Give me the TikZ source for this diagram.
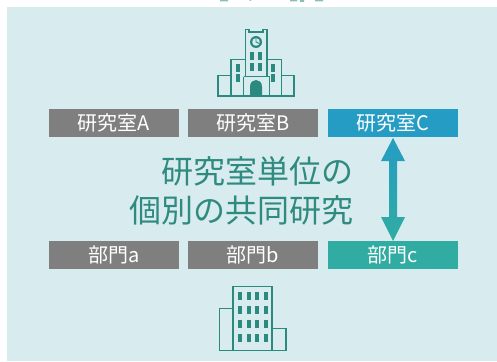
\documentclass[tikz,border=0pt]{standalone}
\usepackage{fontspec}
\setmainfont{Noto Sans CJK JP}
\begin{document}
\begin{tikzpicture}[x=1pt,y=-1pt,
  boxg/.style={fill=bargray,minimum width=130pt,minimum height=28pt,inner sep=0pt,text=white,font=\fontsize{20}{22}\selectfont},
  icon/.style={draw=iconteal,line width=1.8pt,fill=none},
  frag/.style={fill=iconteal!55!white}]
\definecolor{bgc}{HTML}{D8ECEF}
\definecolor{bargray}{HTML}{7F7F7F}
\definecolor{barblue}{HTML}{259CC3}
\definecolor{barteal}{HTML}{30ACA2}
\definecolor{iconteal}{HTML}{2B8A80}
\definecolor{txt}{HTML}{2F8A80}
\useasboundingbox (0,0) rectangle (497,361);
\fill[white] (0,0) rectangle (497,361);
\fill[bgc] (7,7) rectangle (497,361);
\fill[frag] (220,0) rectangle (228,1.5) (249.5,0) rectangle (251,1) (290,0) rectangle (297,1.5) (300,0) rectangle (304,2) (315,0) rectangle (323,1.5);
\node[boxg] (a) at (114,123) {研究室A};
\node[boxg] (b) at (253,123) {研究室B};
\node[boxg,fill=barblue] (c) at (393,123) {研究室C};
\node[boxg] (d) at (114,255) {部門a};
\node[boxg] (e) at (253,255) {部門b};
\node[boxg,fill=barteal] (f) at (393,255) {部門c};
\node[text=txt,font=\fontsize{32}{39}\selectfont,align=right,anchor=east,inner sep=0pt] (t) at (354,191) {研究室単位の\\個別の共同研究};
\shade[top color=barblue,bottom color=barteal]
 (393,138) -- (405,161) -- (397,161) -- (397,217) -- (405,217) -- (393,241) -- (381,217) -- (389,217) -- (389,161) -- (381,161) -- cycle;
% university
\draw[icon,line join=miter] (218,96) -- (218,75.5) -- (231,75.5) -- (231,59.5) -- (245.5,59.5) -- (245.5,29.5) -- (249,29.5) -- (249,32) -- (263,32) -- (263,29.5) -- (267,29.5) -- (267,59.5) -- (281.5,59.5) -- (281.5,75.5) -- (294,75.5) -- (294,96) -- cycle;
\draw[icon] (231,75.5) -- (231,96) (281.5,75.5) -- (281.5,96) (245.5,59.5) -- (245.5,76.5) (267,59.5) -- (267,76.5) (243.5,76.5) -- (269.5,76.5) (243.5,76.5) -- (243.5,96) (269.5,76.5) -- (269.5,96);
\fill[iconteal] (250,96) -- (250,87) .. controls (250,82) and (253,80) .. (256,80) .. controls (259,80) and (262,82) .. (262,87) -- (262,96) -- cycle;
\fill[iconteal] (256,42) circle (6pt);
\fill[bgc] (256,42) circle (3.8pt);
\draw[iconteal,line width=.9pt] (256,38.5) -- (256,42) -- (259.5,43.5);
\foreach \x in {252,260}{\foreach \y in {56,67}{\fill[iconteal] (\x-1.6,\y-3.7) rectangle (\x+1.6,\y+3.7);}}
\foreach \x in {238,273}{\foreach \y in {68,78}{\fill[iconteal] (\x-1.6,\y-3.7) rectangle (\x+1.6,\y+3.7);}}
% office
\draw[icon] (233,308.5) -- (219.5,308.5) -- (219.5,350.5) -- (286,350.5) -- (286,328.5) -- (272,328.5);
\draw[icon] (233,350.5) -- (233,286.5) -- (272,286.5) -- (272,350.5);
\foreach \x in {240,249,257,266}{\foreach \y in {296,310,324,338}{\fill[iconteal] (\x-2.2,\y-4) rectangle (\x+2.2,\y+4);}}
\end{tikzpicture}
\end{document}
